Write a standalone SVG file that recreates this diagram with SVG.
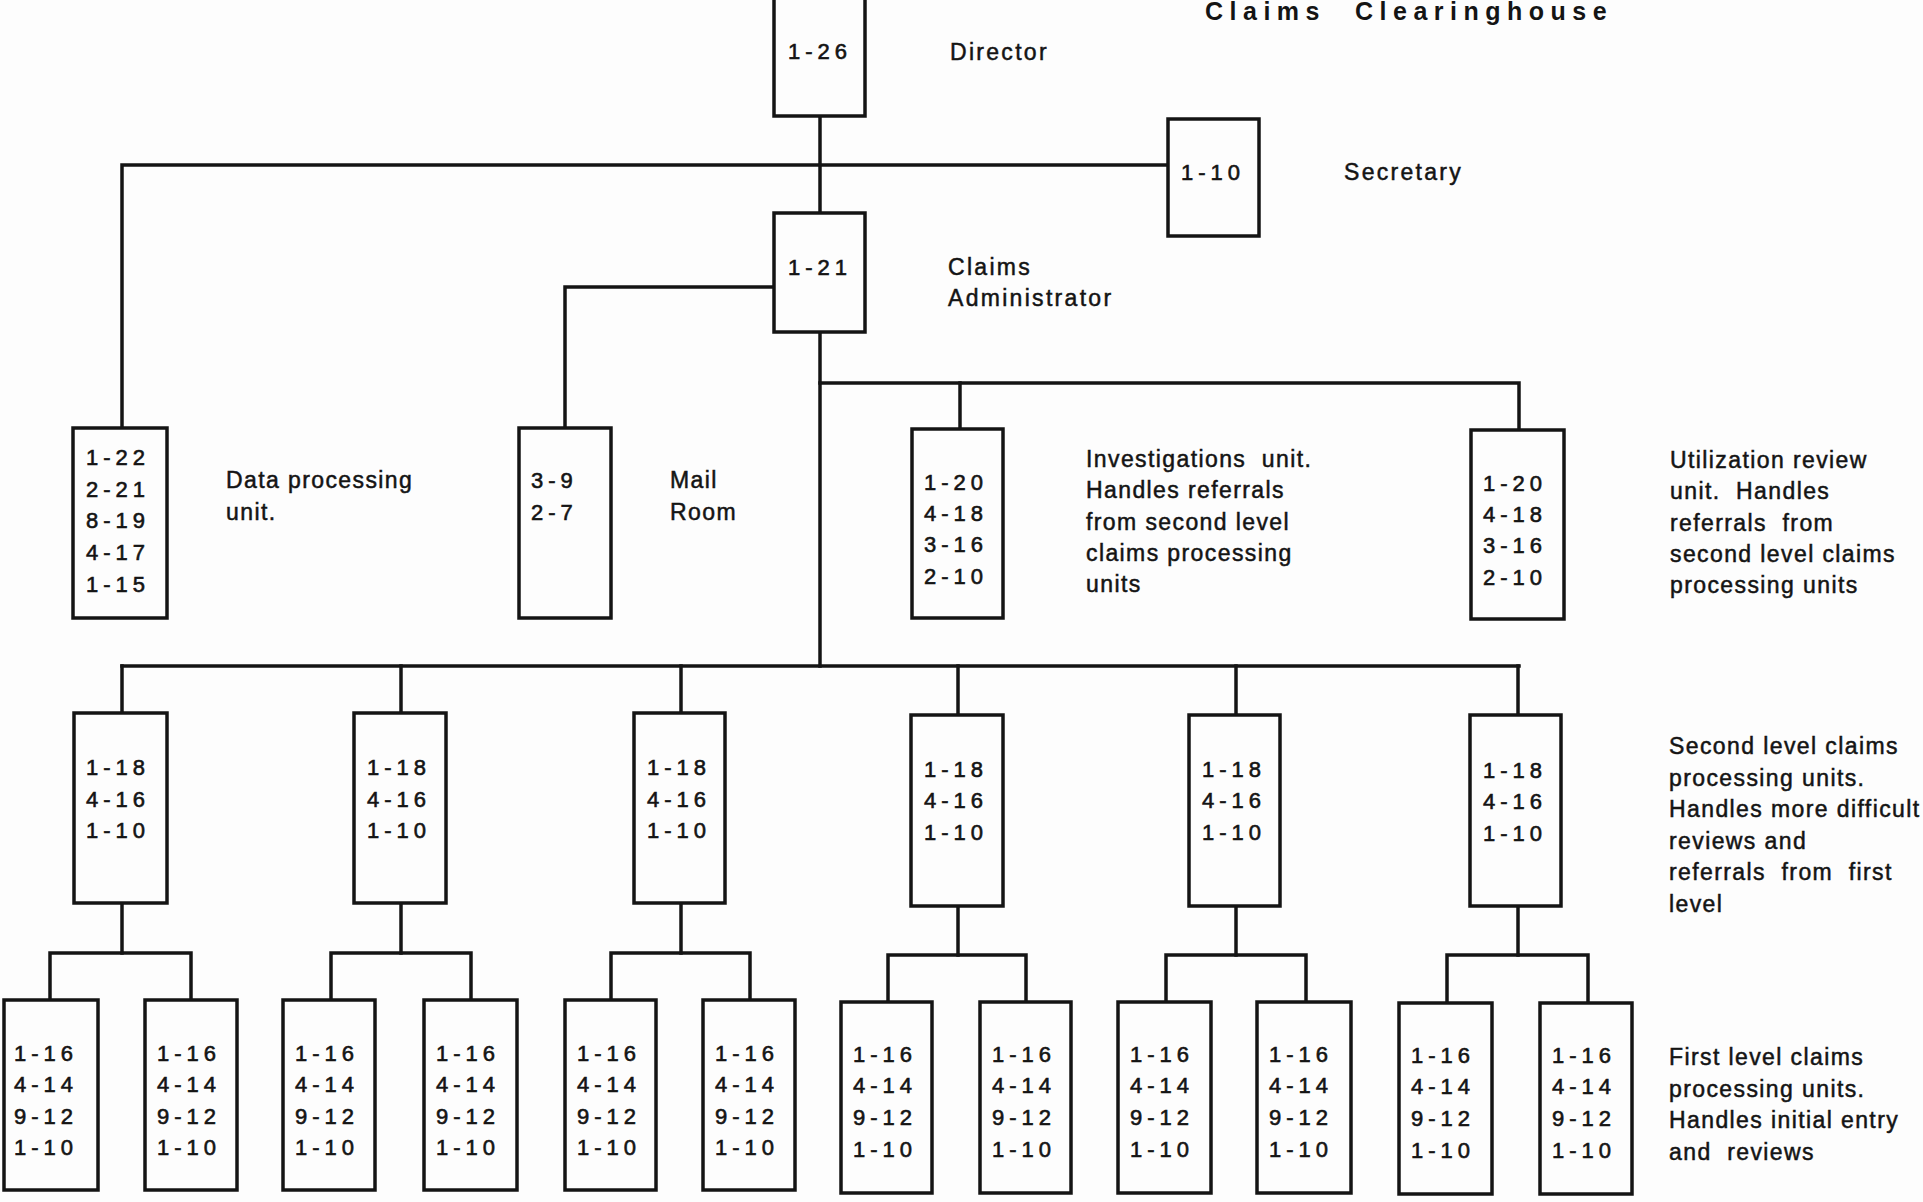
<svg xmlns="http://www.w3.org/2000/svg" width="1923" height="1202" viewBox="0 0 1923 1202">
<style>
.bg{fill:#fdfdfd}
.box{fill:#fdfdfd;stroke:#141414;stroke-width:3.5}
.ln{fill:none;stroke:#141414;stroke-width:3.5;stroke-linecap:square}
.num{font-family:"Liberation Sans",Arial,sans-serif;font-size:22px;letter-spacing:5px;fill:#141414;stroke:#141414;stroke-width:0.6}
.lbl{font-family:"Liberation Sans",Arial,sans-serif;font-size:23px;letter-spacing:1.4px;fill:#141414;stroke:#141414;stroke-width:0.5}
.top{font-family:"Liberation Sans",Arial,sans-serif;font-size:23px;letter-spacing:2.3px;fill:#141414;stroke:#141414;stroke-width:0.5}
.ttl{font-family:"Liberation Sans",Arial,sans-serif;font-size:25px;font-weight:bold;letter-spacing:6.5px;fill:#141414}
</style>
<rect class="bg" x="0" y="0" width="1923" height="1202"/>

<g id="title">
<text class="ttl" x="1205" y="20">Claims</text>
<text class="ttl" x="1355" y="20">Clearinghouse</text>
</g>

<g id="connectors">
<polyline class="ln" points="122,428 122,165 1168,165"/>
<line class="ln" x1="820" y1="116" x2="820" y2="213"/>
<line class="ln" x1="820" y1="332" x2="820" y2="666"/>
<polyline class="ln" points="774,287 565,287 565,428"/>
<polyline class="ln" points="820,383 1519,383 1519,430"/>
<line class="ln" x1="960" y1="383" x2="960" y2="429"/>
<line class="ln" x1="122" y1="666" x2="1519" y2="666"/>
<line class="ln" x1="122" y1="666" x2="122" y2="713"/>
<line class="ln" x1="401" y1="666" x2="401" y2="713"/>
<line class="ln" x1="681" y1="666" x2="681" y2="713"/>
<line class="ln" x1="958" y1="666" x2="958" y2="715"/>
<line class="ln" x1="1236" y1="666" x2="1236" y2="715"/>
<line class="ln" x1="1518" y1="666" x2="1518" y2="715"/>
<line class="ln" x1="122" y1="903" x2="122" y2="953"/>
<polyline class="ln" points="50,1000 50,953 191,953 191,1000"/>
<line class="ln" x1="401" y1="903" x2="401" y2="953"/>
<polyline class="ln" points="331,1000 331,953 471,953 471,1000"/>
<line class="ln" x1="681" y1="903" x2="681" y2="953"/>
<polyline class="ln" points="611,1000 611,953 750,953 750,1000"/>
<line class="ln" x1="958" y1="906" x2="958" y2="955"/>
<polyline class="ln" points="888,1002 888,955 1026,955 1026,1002"/>
<line class="ln" x1="1236" y1="906" x2="1236" y2="955"/>
<polyline class="ln" points="1166,1002 1166,955 1306,955 1306,1002"/>
<line class="ln" x1="1518" y1="906" x2="1518" y2="955"/>
<polyline class="ln" points="1447,1002 1447,955 1588,955 1588,1002"/>
</g>

<g id="director">
<rect class="box" x="774" y="-4" width="91" height="120"/>
<text class="num" x="788" y="59">1-26</text>
<text class="top" x="950" y="60">Director</text>
</g>

<g id="secretary">
<rect class="box" x="1168" y="119" width="91" height="117"/>
<text class="num" x="1181" y="180">1-10</text>
<text class="top" x="1344" y="180">Secretary</text>
</g>

<g id="claims-administrator">
<rect class="box" x="774" y="213" width="91" height="119"/>
<text class="num" x="788" y="275">1-21</text>
<text class="top" x="948" y="275">Claims</text>
<text class="top" x="948" y="306">Administrator</text>
</g>

<g id="data-processing">
<rect class="box" x="73" y="428" width="94" height="190"/>
<text class="num" x="86" y="465">1-22</text>
<text class="num" x="86" y="497">2-21</text>
<text class="num" x="86" y="528">8-19</text>
<text class="num" x="86" y="560">4-17</text>
<text class="num" x="86" y="592">1-15</text>
<text class="lbl" x="226" y="488">Data processing</text>
<text class="lbl" x="226" y="520">unit.</text>
</g>

<g id="mail-room">
<rect class="box" x="519" y="428" width="92" height="190"/>
<text class="num" x="531" y="488">3-9</text>
<text class="num" x="531" y="520">2-7</text>
<text class="lbl" x="670" y="488">Mail</text>
<text class="lbl" x="670" y="520">Room</text>
</g>

<g id="investigations">
<rect class="box" x="912" y="429" width="91" height="189"/>
<text class="num" x="924" y="490">1-20</text>
<text class="num" x="924" y="521">4-18</text>
<text class="num" x="924" y="552">3-16</text>
<text class="num" x="924" y="584">2-10</text>
<text class="lbl" x="1086" y="467" xml:space="preserve">Investigations  unit.</text>
<text class="lbl" x="1086" y="498">Handles referrals</text>
<text class="lbl" x="1086" y="530">from second level</text>
<text class="lbl" x="1086" y="561">claims processing</text>
<text class="lbl" x="1086" y="592">units</text>
</g>

<g id="utilization-review">
<rect class="box" x="1471" y="430" width="93" height="189"/>
<text class="num" x="1483" y="491">1-20</text>
<text class="num" x="1483" y="522">4-18</text>
<text class="num" x="1483" y="553">3-16</text>
<text class="num" x="1483" y="585">2-10</text>
<text class="lbl" x="1670" y="468">Utilization review</text>
<text class="lbl" x="1670" y="499" xml:space="preserve">unit.  Handles</text>
<text class="lbl" x="1670" y="531" xml:space="preserve">referrals  from</text>
<text class="lbl" x="1670" y="562">second level claims</text>
<text class="lbl" x="1670" y="593">processing units</text>
</g>

<g id="second-level-1">
<rect class="box" x="74" y="713" width="93" height="190"/>
<text class="num" x="86" y="775">1-18</text><text class="num" x="86" y="807">4-16</text><text class="num" x="86" y="838">1-10</text>
</g>
<g id="second-level-2">
<rect class="box" x="354" y="713" width="92" height="190"/>
<text class="num" x="367" y="775">1-18</text><text class="num" x="367" y="807">4-16</text><text class="num" x="367" y="838">1-10</text>
</g>
<g id="second-level-3">
<rect class="box" x="634" y="713" width="91" height="190"/>
<text class="num" x="647" y="775">1-18</text><text class="num" x="647" y="807">4-16</text><text class="num" x="647" y="838">1-10</text>
</g>
<g id="second-level-4">
<rect class="box" x="911" y="715" width="92" height="191"/>
<text class="num" x="924" y="777">1-18</text><text class="num" x="924" y="808">4-16</text><text class="num" x="924" y="840">1-10</text>
</g>
<g id="second-level-5">
<rect class="box" x="1189" y="715" width="91" height="191"/>
<text class="num" x="1202" y="777">1-18</text><text class="num" x="1202" y="808">4-16</text><text class="num" x="1202" y="840">1-10</text>
</g>
<g id="second-level-6">
<rect class="box" x="1470" y="715" width="91" height="191"/>
<text class="num" x="1483" y="778">1-18</text><text class="num" x="1483" y="809">4-16</text><text class="num" x="1483" y="841">1-10</text>
</g>

<g id="second-level-label">
<text class="lbl" x="1669" y="754">Second level claims</text>
<text class="lbl" x="1669" y="786">processing units.</text>
<text class="lbl" x="1669" y="817">Handles more difficult</text>
<text class="lbl" x="1669" y="849">reviews and</text>
<text class="lbl" x="1669" y="880" xml:space="preserve">referrals  from  first</text>
<text class="lbl" x="1669" y="912">level</text>
</g>

<g id="first-level-1"><rect class="box" x="4" y="1000" width="94" height="190"/>
<text class="num" x="14" y="1061">1-16</text><text class="num" x="14" y="1092">4-14</text><text class="num" x="14" y="1124">9-12</text><text class="num" x="14" y="1155">1-10</text></g>
<g id="first-level-2"><rect class="box" x="145" y="1000" width="92" height="190"/>
<text class="num" x="157" y="1061">1-16</text><text class="num" x="157" y="1092">4-14</text><text class="num" x="157" y="1124">9-12</text><text class="num" x="157" y="1155">1-10</text></g>
<g id="first-level-3"><rect class="box" x="283" y="1000" width="92" height="190"/>
<text class="num" x="295" y="1061">1-16</text><text class="num" x="295" y="1092">4-14</text><text class="num" x="295" y="1124">9-12</text><text class="num" x="295" y="1155">1-10</text></g>
<g id="first-level-4"><rect class="box" x="424" y="1000" width="93" height="190"/>
<text class="num" x="436" y="1061">1-16</text><text class="num" x="436" y="1092">4-14</text><text class="num" x="436" y="1124">9-12</text><text class="num" x="436" y="1155">1-10</text></g>
<g id="first-level-5"><rect class="box" x="565" y="1000" width="91" height="190"/>
<text class="num" x="577" y="1061">1-16</text><text class="num" x="577" y="1092">4-14</text><text class="num" x="577" y="1124">9-12</text><text class="num" x="577" y="1155">1-10</text></g>
<g id="first-level-6"><rect class="box" x="703" y="1000" width="92" height="190"/>
<text class="num" x="715" y="1061">1-16</text><text class="num" x="715" y="1092">4-14</text><text class="num" x="715" y="1124">9-12</text><text class="num" x="715" y="1155">1-10</text></g>
<g id="first-level-7"><rect class="box" x="841" y="1002" width="91" height="191"/>
<text class="num" x="853" y="1062">1-16</text><text class="num" x="853" y="1093">4-14</text><text class="num" x="853" y="1125">9-12</text><text class="num" x="853" y="1157">1-10</text></g>
<g id="first-level-8"><rect class="box" x="980" y="1002" width="91" height="191"/>
<text class="num" x="992" y="1062">1-16</text><text class="num" x="992" y="1093">4-14</text><text class="num" x="992" y="1125">9-12</text><text class="num" x="992" y="1157">1-10</text></g>
<g id="first-level-9"><rect class="box" x="1118" y="1002" width="93" height="191"/>
<text class="num" x="1130" y="1062">1-16</text><text class="num" x="1130" y="1093">4-14</text><text class="num" x="1130" y="1125">9-12</text><text class="num" x="1130" y="1157">1-10</text></g>
<g id="first-level-10"><rect class="box" x="1257" y="1002" width="94" height="191"/>
<text class="num" x="1269" y="1062">1-16</text><text class="num" x="1269" y="1093">4-14</text><text class="num" x="1269" y="1125">9-12</text><text class="num" x="1269" y="1157">1-10</text></g>
<g id="first-level-11"><rect class="box" x="1399" y="1003" width="93" height="191"/>
<text class="num" x="1411" y="1063">1-16</text><text class="num" x="1411" y="1094">4-14</text><text class="num" x="1411" y="1126">9-12</text><text class="num" x="1411" y="1158">1-10</text></g>
<g id="first-level-12"><rect class="box" x="1540" y="1003" width="92" height="191"/>
<text class="num" x="1552" y="1063">1-16</text><text class="num" x="1552" y="1094">4-14</text><text class="num" x="1552" y="1126">9-12</text><text class="num" x="1552" y="1158">1-10</text></g>

<g id="first-level-label">
<text class="lbl" x="1669" y="1065">First level claims</text>
<text class="lbl" x="1669" y="1097">processing units.</text>
<text class="lbl" x="1669" y="1128">Handles initial entry</text>
<text class="lbl" x="1669" y="1160" xml:space="preserve">and  reviews</text>
</g>
</svg>
